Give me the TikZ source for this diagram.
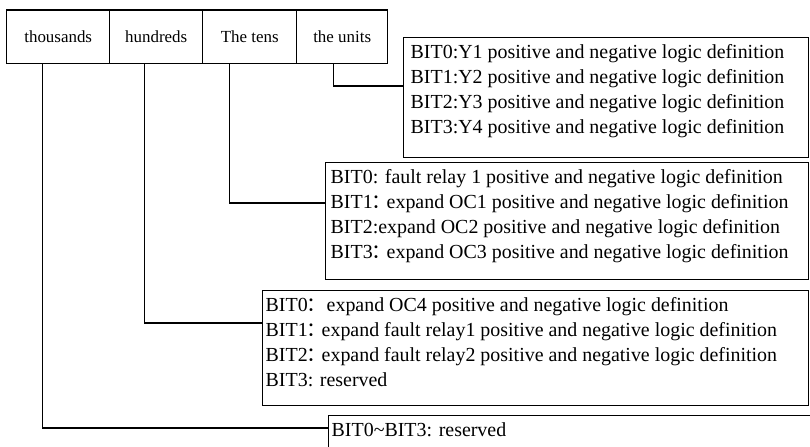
\documentclass[tikz,border=0pt]{standalone}
\usepackage{fontspec}
\setmainfont{Liberation Serif}
\newfontfamily\cjk{Noto Sans CJK SC}
\usetikzlibrary{calc}
\newcommand{\fcolon}{\kern-0.08em{\cjk ：}\kern-0.22em}
\begin{document}
\begin{tikzpicture}[x=1bp, y=-1bp, line width=1.4bp,
  cell/.style={draw, anchor=north west, inner sep=0, minimum height=53.5bp, font=\fontsize{17}{20}\selectfont},
  bitbox/.style={draw, anchor=north west, inner sep=0},
  bittext/.style={anchor=north west, inner sep=0, align=left, font=\fontsize{20}{25}\selectfont},
  link/.style={draw}]
\useasboundingbox (0,0) rectangle (810,447);
\clip (0,0) rectangle (810,447);
% digit cells
\node[cell, minimum width=103bp] (c1) at (6,9.5) {thousands};
\node[cell, minimum width=93bp] (c2) at (109,9.5) {hundreds};
\node[cell, minimum width=94bp] (c3) at (202,9.5) {The tens};
\node[cell, minimum width=91bp] (c4) at (296,9.5) {the units};
% boxes
\node[bitbox, minimum width=405bp, minimum height=120bp] (b1) at (403,37) {};
\node[bitbox, minimum width=483bp, minimum height=117bp] (b2) at (325,162) {};
\node[bitbox, minimum width=546bp, minimum height=115bp] (b3) at (262,290) {};
\node[bitbox, minimum width=486bp, minimum height=60bp] (b4) at (328,415) {};
% texts
\node[bittext] (t1) at ($(b1.north west)+(7,3.5)$) {\strut BIT0:Y1 positive and negative logic definition\\
BIT1:Y2 positive and negative logic definition\\
BIT2:Y3 positive and negative logic definition\\
BIT3:Y4 positive and negative logic definition};
\node[bittext] (t2) at ($(b2.north west)+(5,3.5)$) {\strut BIT0: fault relay 1 positive and negative logic definition\\
BIT1\fcolon expand OC1 positive and negative logic definition\\
BIT2:expand OC2 positive and negative logic definition\\
BIT3\fcolon expand OC3 positive and negative logic definition};
\node[bittext] (t3) at ($(b3.north west)+(3,3.5)$) {\strut BIT0\fcolon\ expand OC4 positive and negative logic definition\\
BIT1\fcolon expand fault relay1 positive and negative logic definition\\
BIT2\fcolon expand fault relay2 positive and negative logic definition\\
BIT3: reserved};
\node[bittext] (t4) at ($(b4.north west)+(3,3.5)$) {\strut BIT0\textasciitilde BIT3: reserved};
% connectors
\draw[link] ($(c4.south)+(-8.5,0)$) |- ($(b1.north west)+(0,49)$);
\draw[link] ($(c3.south)+(-20,0)$) |- ($(b2.north west)+(0,41)$);
\draw[link] ($(c2.south)+(-11.5,0)$) |- ($(b3.north west)+(0,33)$);
\draw[link] ($(c1.south)+(-16,0)$) |- ($(b4.north west)+(0,13)$);
\end{tikzpicture}
\end{document}
